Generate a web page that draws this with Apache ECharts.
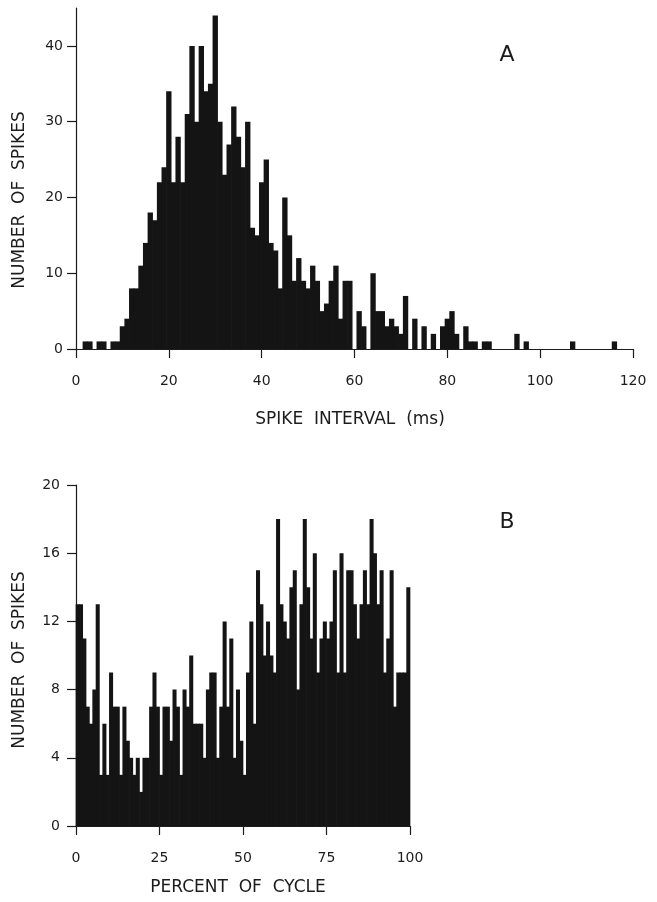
<!DOCTYPE html>
<html>
<head>
<meta charset="utf-8">
<script src="https://cdn.jsdelivr.net/npm/echarts@6/dist/echarts.min.js"></script>
<style>
html,body{margin:0;padding:0;background:#fff;}
#c{width:657px;height:902px;}
</style>
</head>
<body>
<div id="c"></div>
<script>
// Panel A: spike interval histogram (1 ms bins, centred on integer ms)
const intervalMs = [];
for (let k = 0; k <= 120; k++) intervalMs.push(k);
const spikesA = [
  0,0,1,1,0,1,1,0,1,1,
  3,4,8,8,11,14,18,17,22,24,
  34,22,28,22,31,40,30,40,34,35,
  44,30,23,27,32,28,24,30,16,15,
  22,25,14,13,8,20,15,9,12,9,
  8,11,9,5,6,9,11,4,9,9,
  0,5,3,0,10,5,5,3,4,3,
  2,7,0,4,0,3,0,2,0,3,
  4,5,2,0,3,1,1,0,1,1,
  0,0,0,0,0,2,0,1,0,0,
  0,0,0,0,0,0,0,1,0,0,
  0,0,0,0,0,0,1,0,0,0,
  0
];
const xTicksA = [0,20,40,60,80,100,120];
const yTicksA = [0,10,20,30,40];

// Panel B: percent of cycle histogram (1 % bins, [j, j+1))
const percentBinStart = [];
for (let j = 0; j < 100; j++) percentBinStart.push(j);
const spikesB = [
  13,13,11,7,6,8,13,3,6,3,
  9,7,7,3,7,5,4,3,4,2,
  4,4,7,9,7,3,7,7,5,8,
  7,3,8,7,10,6,6,6,4,8,
  9,9,4,7,12,7,11,4,8,5,
  3,9,12,6,15,13,10,12,10,9,
  18,13,12,11,14,15,8,13,18,14,
  11,16,9,11,12,11,12,15,9,16,
  9,15,15,13,11,13,15,13,18,16,
  13,15,9,11,15,7,9,9,9,14
];
const xTicksB = [0,25,50,75,100];
const yTicksB = [0,4,8,12,16,20];

const FONT = 'DejaVu Sans';
const INK = '#1c1c1c';
const BAR = '#141414';

const gridA = {left:76, top:8, width:557, height:341};
const gridB = {left:76, top:485, width:334, height:341};
const binPxA = gridA.width / 120;   // 1 ms bin in pixels
const binPxB = gridB.width / 100;   // 1 % bin in pixels

const chart = echarts.init(document.getElementById('c'), null, {renderer:'canvas'});

function xAx(grid, max, interval, ticks) {
  return {
    type:'value', gridIndex:grid, min:0, max:max, interval:interval,
    axisLine:{show:true, onZero:false, lineStyle:{color:INK, width:1.2}},
    axisTick:{show:true, inside:false, length:9, lineStyle:{color:INK, width:1.2}, customValues:ticks},
    axisLabel:{show:true, margin:25, fontSize:14, color:INK, fontFamily:FONT, customValues:ticks},
    splitLine:{show:false}
  };
}
function yAx(grid, max, interval, ticks, margin) {
  return {
    type:'value', gridIndex:grid, min:0, max:max, interval:interval,
    axisLine:{show:true, onZero:false, lineStyle:{color:INK, width:1.2}},
    axisTick:{show:true, inside:false, length:9, lineStyle:{color:INK, width:1.2}, customValues:ticks},
    axisLabel:{show:true, margin:margin, fontSize:14, color:INK, fontFamily:FONT, customValues:ticks},
    splitLine:{show:false}
  };
}

const barStyle = {color:BAR, borderWidth:0};

const option = {
  animation:false,
  backgroundColor:'#ffffff',
  grid:[gridA, gridB],
  xAxis:[ xAx(0,120,20,xTicksA), xAx(1,100,25,xTicksB) ],
  yAxis:[ yAx(0,45,10,yTicksA,13), yAx(1,20,4,yTicksB,16) ],
  series:[
    {
      type:'bar', xAxisIndex:0, yAxisIndex:0, silent:true,
      barWidth: binPxA + 0.7, barGap:'0%',
      itemStyle:barStyle,
      data: intervalMs.map((k,i)=>[k, spikesA[i]])
    },
    {
      type:'bar', xAxisIndex:1, yAxisIndex:1, silent:true,
      barWidth: binPxB + 0.7, barGap:'0%',
      itemStyle:barStyle,
      data: percentBinStart.map((j,i)=>[j + 0.5, spikesB[i]])
    }
  ],
  graphic:[
    {type:'text', x:507, y:55, style:{text:'A', font:'22px "'+FONT+'"', fill:INK, textAlign:'center', textVerticalAlign:'middle'}},
    {type:'text', x:507, y:522, style:{text:'B', font:'22px "'+FONT+'"', fill:INK, textAlign:'center', textVerticalAlign:'middle'}},
    {type:'text', x:350, y:420, style:{text:'SPIKE  INTERVAL  (ms)', font:'17px "'+FONT+'"', fill:INK, textAlign:'center', textVerticalAlign:'middle'}},
    {type:'text', x:238, y:888, style:{text:'PERCENT  OF  CYCLE', font:'17px "'+FONT+'"', fill:INK, textAlign:'center', textVerticalAlign:'middle'}},
    {type:'text', x:20, y:200, rotation:Math.PI/2, style:{text:'NUMBER  OF  SPIKES', font:'17px "'+FONT+'"', fill:INK, textAlign:'center', textVerticalAlign:'middle'}},
    {type:'text', x:20, y:660, rotation:Math.PI/2, style:{text:'NUMBER  OF  SPIKES', font:'17px "'+FONT+'"', fill:INK, textAlign:'center', textVerticalAlign:'middle'}}
  ]
};
chart.setOption(option);
</script>
</body>
</html>
